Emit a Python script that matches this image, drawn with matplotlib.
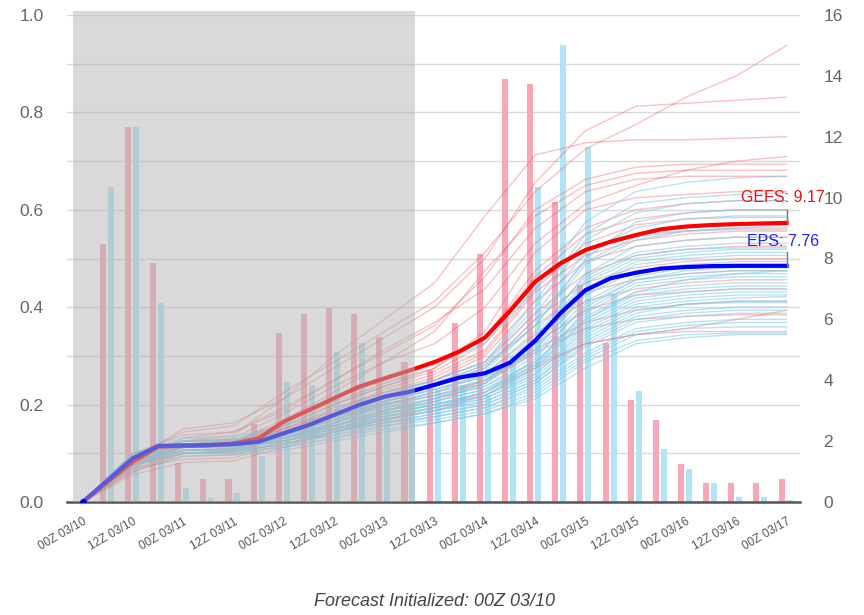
import numpy as np
import matplotlib.pyplot as plt

# hours after 00Z 03/10
mean_hours = np.arange(0, 169, 6)
member_hours = np.arange(0, 169, 12)
bar_hours = np.arange(6, 169, 6)

tick_labels = ['00Z 03/10', '12Z 03/10', '00Z 03/11', '12Z 03/11', '00Z 03/12',
               '12Z 03/12', '00Z 03/13', '12Z 03/13', '00Z 03/14', '12Z 03/14',
               '00Z 03/15', '12Z 03/15', '00Z 03/16', '12Z 03/16', '00Z 03/17']

# 6-hourly bars (left axis)
gefs_bars = [0.53, 0.77, 0.49, 0.08, 0.047, 0.047, 0.16, 0.348, 0.387, 0.399,
             0.387, 0.338, 0.288, 0.271, 0.368, 0.509, 0.869, 0.858, 0.617, 0.446,
             0.327, 0.209, 0.168, 0.079, 0.038, 0.038, 0.038, 0.047]
eps_bars = [0.646, 0.769, 0.409, 0.028, 0.008, 0.018, 0.094, 0.247, 0.24, 0.309,
            0.327, 0.22, 0.2, 0.23, 0.24, 0.22, 0.3, 0.647, 0.938, 0.728,
            0.428, 0.228, 0.108, 0.067, 0.038, 0.01, 0.01, 0.005]

# ensemble means (right axis)
gefs_mean = [0, 0.67, 1.32, 1.82, 1.84, 1.86, 1.92, 2.09, 2.64, 3.02, 3.41, 3.79,
             4.06, 4.32, 4.6, 4.95, 5.4, 6.28, 7.24, 7.84, 8.28, 8.55, 8.77, 8.96,
             9.05, 9.1, 9.13, 9.15, 9.17]
eps_mean = [0, 0.72, 1.44, 1.84, 1.86, 1.87, 1.9, 1.98, 2.26, 2.53, 2.86, 3.19,
            3.46, 3.62, 3.85, 4.09, 4.23, 4.58, 5.3, 6.2, 6.96, 7.35, 7.53, 7.67,
            7.72, 7.75, 7.76, 7.76, 7.76]

# ensemble members, 12-hourly
gefs_members = [
    [0, 1.5, 2.3, 2.5, 3.6, 4.6, 5.6, 6.6, 8.2, 10.2, 11.6, 12.4, 13.3, 14.0, 15.0],
    [0, 1.4, 2.4, 2.6, 3.4, 4.4, 5.4, 6.4, 8.0, 10.5, 12.2, 13.0, 13.1, 13.2, 13.3],
    [0, 1.2, 2.0, 2.2, 3.4, 4.8, 6.0, 7.2, 9.4, 11.4, 11.8, 11.9, 11.9, 11.95, 12.0],
    [0, 1.3, 2.0, 2.1, 2.9, 3.8, 4.6, 5.2, 6.4, 8.5, 9.8, 10.4, 10.9, 11.2, 11.35],
    [0, 1.1, 1.9, 2.0, 2.7, 3.6, 4.6, 5.6, 7.6, 9.4, 10.4, 10.8, 10.9, 10.9, 10.9],
    [0, 1.3, 2.1, 2.3, 3.0, 4.0, 5.0, 5.9, 7.0, 9.0, 10.2, 10.6, 10.7, 10.7, 10.7],
    [0, 1.4, 1.9, 2.0, 2.6, 3.3, 3.9, 4.4, 5.6, 8.2, 9.6, 10.0, 10.1, 10.2, 10.2],
    [0, 1.2, 1.8, 1.9, 2.5, 3.2, 3.8, 4.4, 5.4, 7.6, 9.0, 9.6, 9.8, 9.9, 9.9],
    [0, 1.5, 1.9, 1.95, 2.6, 3.4, 4.0, 4.6, 5.4, 7.4, 8.8, 9.3, 9.5, 9.6, 9.6],
    [0, 1.3, 1.8, 1.85, 2.4, 3.0, 3.7, 4.2, 5.0, 7.0, 8.5, 9.1, 9.3, 9.35, 9.35],
    [0, 1.4, 1.9, 1.95, 2.5, 3.2, 3.8, 4.3, 5.2, 7.2, 8.3, 8.8, 8.9, 9.0, 9.0],
    [0, 1.2, 1.7, 1.75, 2.3, 2.9, 3.5, 4.0, 4.8, 6.6, 7.9, 8.4, 8.6, 8.7, 8.7],
    [0, 1.3, 1.8, 1.85, 2.4, 3.1, 3.6, 4.0, 4.6, 6.2, 7.5, 8.1, 8.3, 8.4, 8.4],
    [0, 1.1, 1.6, 1.65, 2.2, 2.8, 3.3, 3.8, 4.4, 6.0, 7.2, 7.7, 7.9, 8.0, 8.0],
    [0, 1.4, 1.9, 1.95, 2.4, 2.9, 3.4, 3.9, 4.5, 5.8, 6.9, 7.3, 7.5, 7.6, 7.6],
    [0, 1.2, 1.7, 1.75, 2.2, 2.7, 3.2, 3.6, 4.2, 5.5, 6.6, 7.0, 7.2, 7.3, 7.3],
    [0, 1.0, 1.5, 1.55, 2.0, 2.5, 3.0, 3.4, 4.0, 5.2, 6.3, 6.8, 6.9, 7.0, 7.0],
    [0, 1.3, 1.8, 1.85, 2.3, 2.8, 3.2, 3.5, 4.0, 5.0, 5.9, 6.3, 6.5, 6.6, 6.6],
    [0, 0.9, 1.3, 1.35, 1.8, 2.3, 2.7, 3.0, 3.5, 4.4, 5.2, 5.5, 5.7, 6.0, 6.3],
    [0, 1.1, 1.4, 1.45, 1.9, 2.3, 2.7, 3.1, 3.6, 4.5, 5.2, 5.5, 5.6, 5.6, 5.6],
    [0, 1.2, 1.6, 1.65, 2.1, 2.6, 3.0, 3.3, 3.9, 4.9, 5.7, 6.0, 6.1, 6.15, 6.15],
    [0, 1.6, 2.2, 2.3, 3.1, 4.0, 4.9, 5.8, 7.4, 9.6, 10.6, 11.0, 11.1, 11.1, 11.1],
    [0, 1.0, 1.6, 1.7, 2.3, 3.0, 3.6, 4.1, 4.9, 6.9, 8.1, 8.6, 8.8, 8.9, 8.9],
]
eps_members = [
    [0, 1.5, 2.0, 2.05, 2.5, 3.2, 3.9, 4.5, 5.2, 7.0, 9.2, 10.2, 10.5, 10.65, 10.7],
    [0, 1.6, 2.1, 2.15, 2.5, 3.0, 3.6, 4.0, 4.6, 6.6, 8.8, 9.8, 10.0, 10.1, 10.15],
    [0, 1.4, 1.9, 1.95, 2.3, 2.9, 3.5, 4.0, 4.6, 6.4, 8.6, 9.5, 9.8, 9.9, 9.9],
    [0, 1.5, 2.0, 2.0, 2.3, 2.8, 3.4, 3.8, 4.3, 5.8, 8.0, 9.2, 9.5, 9.6, 9.6],
    [0, 1.3, 1.8, 1.85, 2.2, 2.8, 3.4, 3.9, 4.5, 6.2, 8.2, 9.0, 9.3, 9.4, 9.4],
    [0, 1.5, 1.9, 1.95, 2.3, 2.9, 3.5, 3.9, 4.4, 5.8, 7.8, 8.6, 8.9, 8.95, 8.95],
    [0, 1.4, 1.9, 1.95, 2.2, 2.7, 3.3, 3.7, 4.1, 5.4, 7.5, 8.4, 8.6, 8.7, 8.7],
    [0, 1.6, 2.0, 2.05, 2.3, 2.8, 3.3, 3.7, 4.2, 5.6, 7.4, 8.2, 8.4, 8.5, 8.5],
    [0, 1.4, 1.8, 1.85, 2.1, 2.6, 3.2, 3.6, 4.0, 5.2, 7.2, 8.0, 8.2, 8.3, 8.3],
    [0, 1.5, 1.9, 1.9, 2.2, 2.7, 3.3, 3.7, 4.1, 5.0, 6.9, 7.8, 8.0, 8.1, 8.1],
    [0, 1.3, 1.7, 1.75, 2.1, 2.6, 3.2, 3.5, 3.9, 5.0, 6.8, 7.6, 7.8, 7.9, 7.9],
    [0, 1.5, 1.9, 1.95, 2.2, 2.7, 3.2, 3.6, 4.0, 4.9, 6.6, 7.4, 7.7, 7.75, 7.75],
    [0, 1.4, 1.8, 1.85, 2.1, 2.5, 3.0, 3.4, 3.8, 4.8, 6.4, 7.3, 7.5, 7.6, 7.6],
    [0, 1.6, 2.0, 2.05, 2.3, 2.7, 3.1, 3.4, 3.8, 4.6, 6.2, 7.1, 7.3, 7.4, 7.4],
    [0, 1.3, 1.7, 1.75, 2.0, 2.4, 2.9, 3.3, 3.7, 4.6, 6.1, 6.9, 7.1, 7.2, 7.2],
    [0, 1.5, 1.9, 1.9, 2.1, 2.5, 2.9, 3.2, 3.6, 4.4, 5.9, 6.7, 6.9, 7.0, 7.0],
    [0, 1.4, 1.8, 1.85, 2.0, 2.4, 2.8, 3.1, 3.5, 4.3, 5.8, 6.6, 6.8, 6.9, 6.9],
    [0, 1.2, 1.6, 1.65, 1.9, 2.3, 2.7, 3.0, 3.4, 4.2, 5.6, 6.4, 6.6, 6.7, 6.75],
    [0, 1.5, 1.9, 1.95, 2.1, 2.4, 2.8, 3.1, 3.4, 4.1, 5.5, 6.3, 6.5, 6.55, 6.55],
    [0, 1.3, 1.7, 1.7, 1.9, 2.3, 2.7, 3.0, 3.3, 4.0, 5.3, 6.1, 6.3, 6.4, 6.4],
    [0, 1.4, 1.8, 1.8, 2.0, 2.3, 2.6, 2.9, 3.2, 3.9, 5.1, 5.9, 6.1, 6.2, 6.2],
    [0, 1.2, 1.6, 1.6, 1.8, 2.1, 2.5, 2.8, 3.1, 3.8, 4.9, 5.7, 5.9, 6.0, 6.0],
    [0, 1.4, 1.8, 1.85, 2.0, 2.3, 2.6, 2.8, 3.1, 3.7, 4.8, 5.6, 5.8, 5.9, 5.9],
    [0, 1.3, 1.7, 1.7, 1.9, 2.2, 2.5, 2.7, 3.0, 3.6, 4.7, 5.5, 5.7, 5.75, 5.75],
    [0, 1.1, 1.5, 1.55, 1.7, 2.0, 2.3, 2.6, 2.9, 3.5, 4.6, 5.3, 5.5, 5.55, 5.55],
    [0, 1.3, 1.6, 1.65, 1.8, 2.1, 2.4, 2.6, 2.9, 3.4, 4.4, 5.2, 5.4, 5.5, 5.5],
    [0, 1.5, 2.0, 2.05, 2.3, 2.8, 3.4, 3.8, 4.4, 6.0, 7.9, 8.7, 8.9, 9.0, 9.1],
    [0, 1.4, 1.9, 1.9, 2.1, 2.5, 3.0, 3.3, 3.7, 4.5, 6.0, 6.9, 7.3, 7.5, 7.6],
    [0, 1.5, 1.9, 1.95, 2.2, 2.6, 3.1, 3.5, 3.9, 5.1, 7.0, 7.9, 8.1, 8.2, 8.2],
    [0, 1.4, 1.8, 1.8, 2.0, 2.4, 2.9, 3.2, 3.6, 4.5, 6.3, 7.2, 7.4, 7.5, 7.5],
    [0, 1.3, 1.7, 1.75, 2.0, 2.4, 2.8, 3.2, 3.6, 4.7, 6.5, 7.3, 7.6, 7.7, 7.7],
    [0, 1.6, 2.0, 2.0, 2.2, 2.5, 2.9, 3.2, 3.5, 4.2, 5.7, 6.5, 6.7, 6.8, 6.8],
    [0, 1.2, 1.6, 1.65, 1.9, 2.2, 2.6, 2.9, 3.2, 3.9, 5.2, 6.0, 6.2, 6.3, 6.3],
    [0, 1.5, 1.9, 1.9, 2.1, 2.5, 3.0, 3.4, 3.9, 5.3, 7.3, 8.1, 8.3, 8.35, 8.35],
    [0, 1.4, 1.8, 1.85, 2.1, 2.4, 2.7, 3.0, 3.3, 4.0, 5.4, 6.2, 6.5, 6.6, 6.6],
    [0, 1.3, 1.7, 1.7, 1.9, 2.3, 2.8, 3.1, 3.5, 4.4, 6.0, 6.8, 7.0, 7.1, 7.1],
]

plt.rcParams['font.family'] = ['Liberation Sans', 'DejaVu Sans']

fig = plt.figure(figsize=(8.64, 6.15), dpi=100)
ax = fig.add_axes([67 / 864, 1 - 502 / 615, 733 / 864, 487 / 615])
ax2 = ax.twinx()

# bars
ax.bar(bar_hours - 1.2, gefs_bars, width=1.45, color='#f7a8b8', zorder=2)
ax.bar(bar_hours + 0.7, eps_bars, width=1.45, color='#b3e4f5', zorder=2)

ax.set_xlim(-3.75, 171.2)
ax.set_ylim(0, 1.0)
ax.set_yticks(np.arange(0, 1.01, 0.1))
ax.set_yticklabels(['%.1f' % v if i % 2 == 0 else '' for i, v in enumerate(np.arange(0, 1.01, 0.1))])
ax.grid(axis='y', color='#d9d9d9', lw=1)
ax.set_axisbelow(True)
for s in ['top', 'left', 'right']:
    ax.spines[s].set_visible(False)
ax.spines['bottom'].set_color('#555555')
ax.spines['bottom'].set_linewidth(1.8)
ax.tick_params(axis='y', length=0, pad=17, labelsize=12.5, labelcolor='#666666')
ax.set_xticks(member_hours)
ax.set_xticklabels(tick_labels, rotation=30, ha='right', va='top',
                   rotation_mode='anchor', fontsize=8.5, color='#555555')
ax.tick_params(axis='x', length=0, pad=10)

# member lines and means
for m in gefs_members:
    ax2.plot(member_hours, m, color='#f05050', lw=1, alpha=0.35, zorder=3)
for m in eps_members:
    ax2.plot(member_hours, m, color='#7ccbe8', lw=1, alpha=0.55, zorder=3)
ax2.plot(mean_hours, gefs_mean, color='#ff0000', lw=3, zorder=5)
ax2.plot(mean_hours, eps_mean, color='#0000ff', lw=3, zorder=5)

ax2.set_ylim(0, 16)
ax2.set_yticks(np.arange(0, 17, 2))
ax2.tick_params(axis='y', length=0, pad=17, labelsize=12.5, labelcolor='#666666')
for s in ['top', 'left', 'right', 'bottom']:
    ax2.spines[s].set_visible(False)

# shaded past period
ax2.axvspan(-2.24, 79.3, ymin=0, ymax=1.008, color='#b4b4b4', alpha=0.5,
            lw=0, zorder=10, clip_on=False)
ax2.plot([0], [0], 'o', color='#0000cc', ms=4, zorder=11)

# end labels
ax2.plot([168, 168], [gefs_mean[-1], 9.6], color='#777777', lw=1, zorder=6)
ax2.plot([168, 168], [eps_mean[-1], 8.2], color='#777777', lw=1, zorder=6)
ax2.text(157.2, 10.0, 'GEFS: %.2f' % gefs_mean[-1], color='#ee1111', fontsize=11.5,
         va='center', zorder=7)
ax2.text(158.6, 8.55, 'EPS: %.2f' % eps_mean[-1], color='#2222ee', fontsize=11.5,
         va='center', zorder=7)

fig.text(435 / 864, 1 - 601 / 615, 'Forecast Initialized: 00Z 03/10', ha='center',
         va='center', fontsize=13, style='italic', color='#444444')

fig.savefig('out.png', dpi=100)
